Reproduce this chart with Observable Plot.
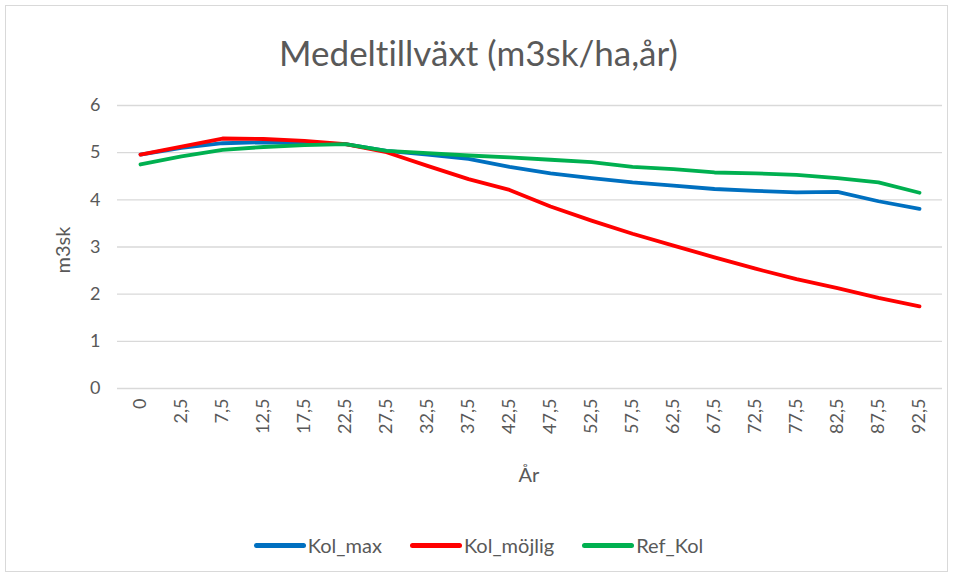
<!DOCTYPE html>
<html>
<head>
<meta charset="utf-8">
<script src="https://cdn.jsdelivr.net/npm/d3@7"></script>
<script src="https://cdn.jsdelivr.net/npm/@observablehq/plot@0.6"></script>
<style>
  body { margin: 0; background: #fff; }
  #wrap { position: relative; width: 957px; height: 578px; font-family: Lato, "Open Sans", sans-serif; color: #595959; overflow: hidden; font-variant-ligatures: none; }
  #border { position: absolute; left: 5px; top: 5px; width: 943px; height: 567px; border: 1px solid #d9d9d9; box-sizing: border-box; }
  #title { position: absolute; left: 0; width: 957px; top: 52px; transform: translateY(-50%); text-align: center; font-size: 35px; line-height: 1; font-variant-ligatures: none; }
  #plot { position: absolute; left: 0; top: 0; }
  #ylab { position: absolute; left: 62px; top: 250px; transform: translate(-50%, -50%) rotate(-90deg); font-size: 20px; white-space: nowrap; }
  #xlab { position: absolute; left: 529px; top: 474px; transform: translate(-50%, -50%); font-size: 20px; }
  #legend { position: absolute; top: 545px; transform: translateY(-50%); left: 0; width: 957px; display: flex; justify-content: center; gap: 28px; font-size: 20px; }
  .item { display: flex; align-items: center; }
  .sw { width: 52px; height: 5px; border-radius: 3px; margin-right: 2px; }
</style>
</head>
<body>
<div id="wrap">
  <div id="border"></div>
  <div id="plot"></div>
  <div id="title">Medeltillväxt (m3sk/ha,år)</div>
  <div id="ylab">m3sk</div>
  <div id="xlab">År</div>
  <div id="legend"></div>
</div>
<script>
const years = [0, 2.5, 7.5, 12.5, 17.5, 22.5, 27.5, 32.5, 37.5, 42.5, 47.5, 52.5, 57.5, 62.5, 67.5, 72.5, 77.5, 82.5, 87.5, 92.5];
const yTicks = [0, 1, 2, 3, 4, 5, 6];
const seriesNames = ["Kol_max", "Kol_möjlig", "Ref_Kol"];
const seriesColors = ["#0070C0", "#FF0000", "#00B050"];
const kolMax    = [4.96, 5.10, 5.20, 5.22, 5.20, 5.18, 5.04, 4.96, 4.87, 4.70, 4.56, 4.46, 4.37, 4.30, 4.23, 4.19, 4.16, 4.17, 3.97, 3.81];
const kolMojlig = [4.96, 5.13, 5.30, 5.29, 5.25, 5.18, 5.01, 4.72, 4.44, 4.21, 3.86, 3.56, 3.28, 3.03, 2.78, 2.54, 2.32, 2.13, 1.92, 1.74];
const refKol    = [4.75, 4.92, 5.06, 5.12, 5.16, 5.18, 5.04, 4.99, 4.94, 4.90, 4.85, 4.80, 4.70, 4.65, 4.58, 4.56, 4.53, 4.46, 4.37, 4.15];

const seriesValues = [kolMax, kolMojlig, refKol];
const data = [];
seriesNames.forEach((name, s) => {
  years.forEach((yr, i) => data.push({ series: name, year: yr, value: seriesValues[s][i] }));
});

const fmt = d => String(d).replace(".", ",");

const chart = Plot.plot({
  width: 957,
  height: 578,
  marginLeft: 119,
  marginRight: 18,
  marginTop: 105,
  marginBottom: 190,
  style: { fontFamily: "Lato, 'Open Sans', sans-serif", fontSize: "18px", color: "#595959", background: "transparent" },
  x: { type: "point", domain: years, padding: 0.5 },
  y: { domain: [0, 6] },
  color: { domain: seriesNames, range: seriesColors },
  marks: [
    Plot.ruleY(yTicks, { stroke: "#d9d9d9", strokeWidth: 1.3 }),
    Plot.axisY({ ticks: yTicks, tickSize: 0, tickPadding: 19, tickFormat: d => String(d), label: null, fill: "#595959" }),
    Plot.axisX({ ticks: years, tickSize: 0, tickPadding: 10, tickRotate: -90, tickFormat: fmt, label: null, fill: "#595959" }),
    Plot.line(data, { x: "year", y: "value", z: "series", stroke: "series", strokeWidth: 3.8, strokeLinejoin: "round", strokeLinecap: "round" })
  ]
});
document.getElementById("plot").appendChild(chart);

// extend gridlines to the reference frame width
chart.querySelectorAll("g[aria-label='rule'] line").forEach(l => { l.setAttribute("x1", 117); l.setAttribute("x2", 942); });

const legend = document.getElementById("legend");
seriesNames.forEach((n, i) => {
  const it = document.createElement("div");
  it.className = "item";
  const sw = document.createElement("div");
  sw.className = "sw";
  sw.style.background = seriesColors[i];
  const tx = document.createElement("span");
  tx.textContent = n;
  it.appendChild(sw); it.appendChild(tx);
  legend.appendChild(it);
});
</script>
</body>
</html>
